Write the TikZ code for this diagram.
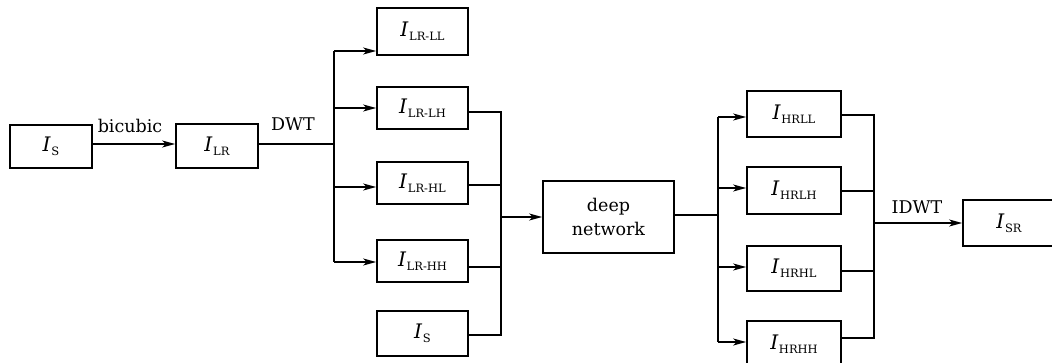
\documentclass[tikz,border=0pt]{standalone}
\usepackage{fontspec}
\setmainfont{DejaVu Serif}
\usetikzlibrary{arrows.meta}
\newcommand\subI[1]{{\fontsize{20}{22}\selectfont\textit{I}}\kern0.5pt\raisebox{-4pt}{\fontsize{11.5}{12}\selectfont #1}}
\begin{document}
\begin{tikzpicture}[x=1pt,y=-1pt,
  box/.style={draw,line width=1.7pt,rectangle,inner sep=0pt,font=\fontsize{17.5}{24}\selectfont},
  conn/.style={line width=1.7pt},
  arr/.style={line width=1.7pt,-{Stealth[length=13pt,width=7pt,inset=3.5pt]}},
  lbl/.style={font=\fontsize{17.5}{20}\selectfont,inner sep=0pt}]
\useasboundingbox (0,0) rectangle (1052,362);
\begin{scope}
\clip (0,0) rectangle (1052,362);
% boxes
\node[box,minimum width=82pt,minimum height=43pt] (is) at (51,146.5) {\subI{S}};
\node[box,minimum width=82pt,minimum height=44pt] (lr) at (217,146) {\subI{LR}};
\node[box,minimum width=91pt,minimum height=47pt] (ll) at (422.5,31.5) {\subI{LR-LL}};
\node[box,minimum width=91pt,minimum height=42pt] (lh) at (422.5,108) {\subI{LR-LH}};
\node[box,minimum width=91pt,minimum height=42pt] (hl) at (422.5,183) {\subI{LR-HL}};
\node[box,minimum width=91pt,minimum height=42pt] (hh) at (422.5,261) {\subI{LR-HH}};
\node[box,minimum width=91pt,minimum height=45pt] (is2) at (422.5,333.5) {\subI{S}};
\node[box,minimum width=131pt,minimum height=72pt,align=center] (dn) at (608.5,217) {deep\\network};
\node[box,minimum width=94pt,minimum height=46pt] (hrll) at (794,114) {\subI{HRLL}};
\node[box,minimum width=94pt,minimum height=47pt] (hrlh) at (794,190.5) {\subI{HRLH}};
\node[box,minimum width=94pt,minimum height=45pt] (hrhl) at (794,268.5) {\subI{HRHL}};
\node[box,minimum width=94pt,minimum height=46pt] (hrhh) at (794,344) {\subI{HRHH}};
\node[box,minimum width=92pt,minimum height=46pt] (sr) at (1009,223) {\subI{SR}};
% labels
\node[lbl] (tb) at (130,126) {bicubic};
\node[lbl] (td) at (293,124) {DWT};
\node[lbl] (ti) at (917,207) {IDWT};
% connectors
\draw[arr] (is.east |- 0,144) -- (lr.west |- 0,144);
\coordinate (j1) at (334,144);
\coordinate (j1t) at (334,51);
\coordinate (j1b) at (334,262);
\draw[conn] (lr.east |- j1) -- (j1);
\draw[conn] (j1t) -- (j1b);
\draw[arr] (j1t) -- (j1t -| ll.west);
\draw[arr] (334,108) -- (lh.west |- 0,108);
\draw[arr] (334,187) -- (hl.west |- 0,187);
\draw[arr] (j1b) -- (j1b -| hh.west);
\coordinate (m1t) at (501,112);
\coordinate (m1b) at (501,335);
\coordinate (m1) at (501,217);
\draw[conn] (lh.east |- m1t) -- (m1t) -- (m1b) -- (is2.east |- m1b);
\draw[conn] (hl.east |- 0,185) -- (501,185);
\draw[conn] (hh.east |- 0,267) -- (501,267);
\draw[arr] (m1) -- (dn.west |- m1);
\coordinate (j2) at (718,215);
\coordinate (j2t) at (718,117);
\coordinate (j2b) at (718,342);
\draw[conn] (dn.east |- j2) -- (j2);
\draw[conn] (j2t) -- (j2b);
\draw[arr] (j2t) -- (j2t -| hrll.west);
\draw[arr] (718,188) -- (hrlh.west |- 0,188);
\draw[arr] (718,267) -- (hrhl.west |- 0,267);
\draw[arr] (j2b) -- (j2b -| hrhh.west);
\coordinate (m2t) at (874,115);
\coordinate (m2b) at (874,338);
\coordinate (m2) at (874,223);
\draw[conn] (hrll.east |- m2t) -- (m2t) -- (m2b) -- (hrhh.east |- m2b);
\draw[conn] (hrlh.east |- 0,191) -- (874,191);
\draw[conn] (hrhl.east |- 0,271) -- (874,271);
\draw[arr] (m2) -- (sr.west |- m2);
\end{scope}
\end{tikzpicture}
\end{document}
